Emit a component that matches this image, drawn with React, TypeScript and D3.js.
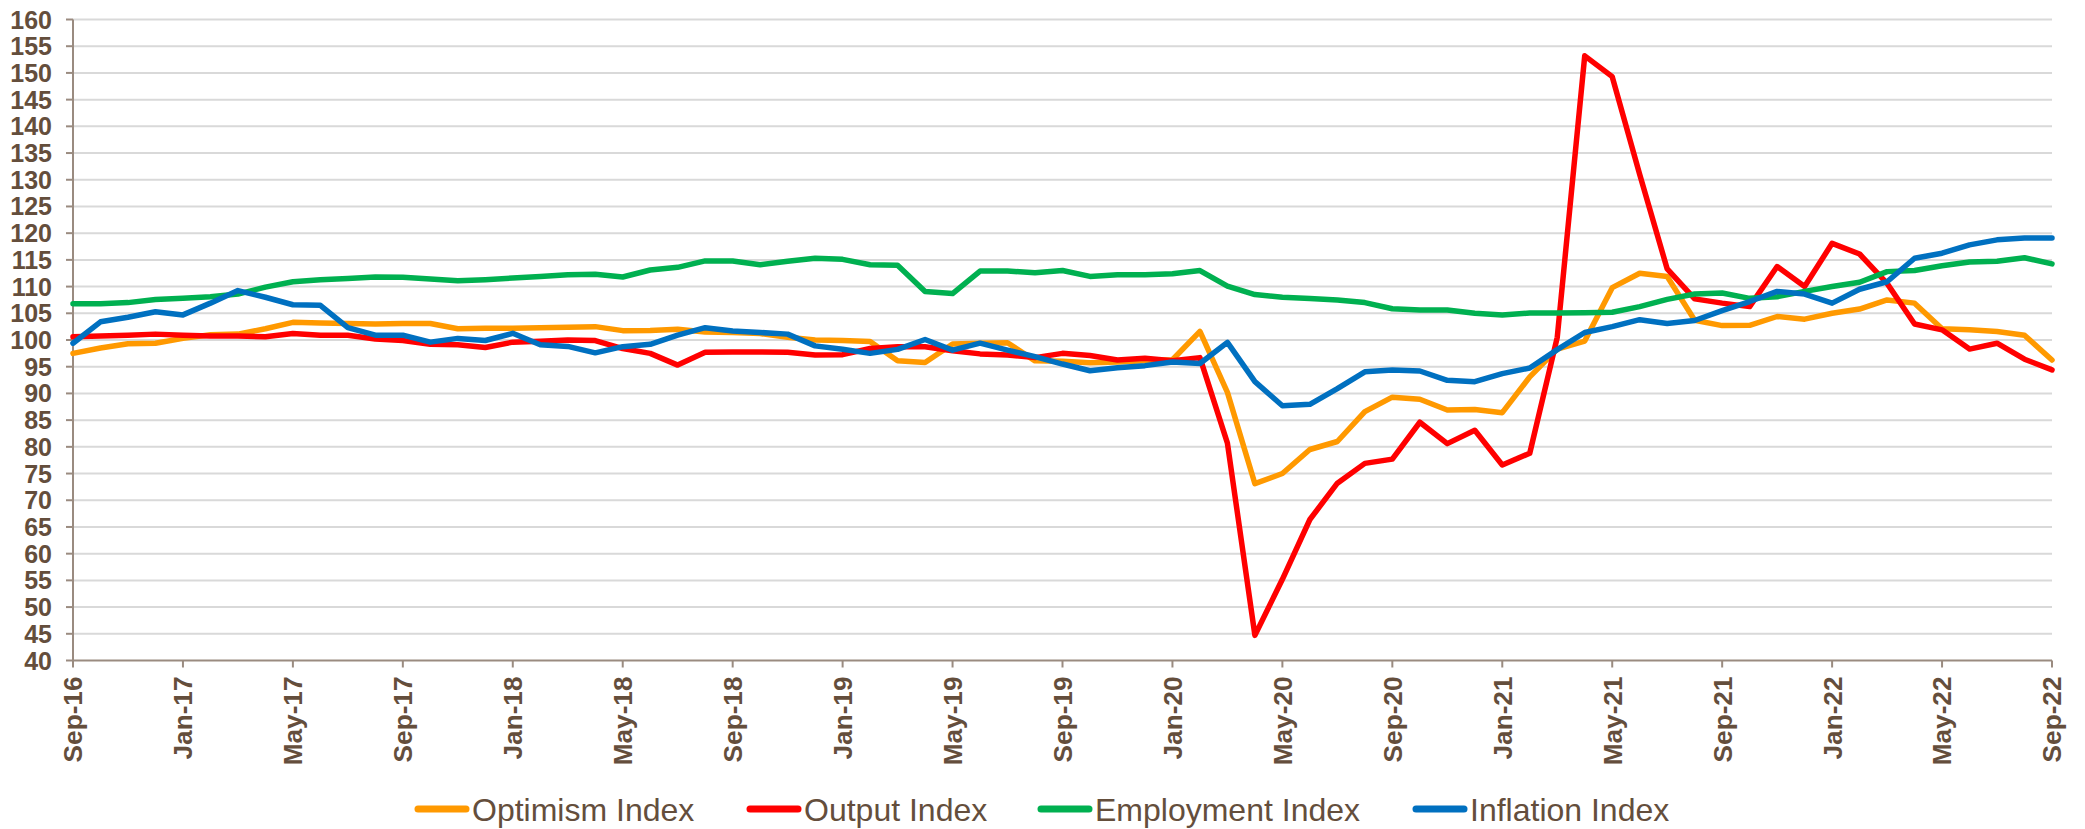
import * as d3 from "d3";
import { useEffect, useRef } from "react";

// Monthly index values, Sep-16 .. Sep-22 (73 months)
const optimism = [
  97.5, 98.5, 99.3, 99.4, 100.3, 101.0, 101.1, 102.1, 103.3, 103.2, 103.1, 103.0, 103.1,
  103.1, 102.1, 102.2, 102.2, 102.3, 102.4, 102.5, 101.75, 101.8, 102.0, 101.5, 101.4,
  101.2, 100.5, 100.0, 99.9, 99.7, 96.1, 95.8, 99.25, 99.4, 99.5, 96.1, 96.0, 95.75, 95.9,
  96.1, 96.3, 101.6, 90.2, 73.1, 75.0, 79.5, 81.0, 86.6, 89.3, 88.9, 86.9, 87.0, 86.4, 93.1,
  98.3, 99.8, 109.8, 112.5, 111.9, 103.7, 102.7, 102.75, 104.4, 103.9, 105.0, 105.8, 107.5,
  106.9, 102.1, 101.9, 101.6, 100.9, 96.25,
];
const output = [
  100.6, 100.75, 100.9, 101.1, 100.9, 100.75, 100.75, 100.6, 101.2, 100.9, 100.9, 100.2,
  99.9, 99.2, 99.1, 98.6, 99.6, 99.75, 100.0, 99.9, 98.4, 97.5, 95.3, 97.7, 97.75, 97.75,
  97.7, 97.2, 97.25, 98.4, 98.75, 98.75, 98.0, 97.4, 97.2, 96.7, 97.5, 97.1, 96.25, 96.6,
  96.1, 96.7, 80.7, 44.7, 55.2, 66.4, 73.2, 76.9, 77.7, 84.6, 80.6, 83.1, 76.6, 78.8, 100.5,
  153.2, 149.3, 131.0, 113.3, 107.7, 106.9, 106.25, 113.75, 110.0, 118.1, 116.1, 110.6,
  103.0, 101.9, 98.3, 99.4, 96.4, 94.4,
];
const employment = [
  106.8, 106.8, 107.0, 107.6, 107.8, 108.1, 108.6, 109.9, 110.9, 111.3, 111.5, 111.8,
  111.75, 111.4, 111.1, 111.3, 111.6, 111.9, 112.2, 112.3, 111.8, 113.1, 113.6, 114.8,
  114.8, 114.1, 114.75, 115.3, 115.1, 114.1, 114.0, 109.1, 108.7, 112.9, 112.9, 112.6,
  113.0, 111.9, 112.2, 112.2, 112.4, 113.0, 110.1, 108.5, 108.0, 107.75, 107.5, 107.0,
  105.85, 105.6, 105.6, 105.0, 104.7, 105.05, 105.05, 105.1, 105.2, 106.25, 107.6, 108.6,
  108.8, 107.8, 108.1, 109.1, 110.0, 110.8, 112.8, 113.0, 113.9, 114.6, 114.75, 115.4, 114.25,
];
const inflation = [
  99.4, 103.4, 104.25, 105.3, 104.7, 106.9, 109.25, 108.0, 106.6, 106.5, 102.3, 100.9,
  100.9, 99.6, 100.3, 99.9, 101.25, 99.1, 98.8, 97.6, 98.75, 99.2, 100.9, 102.3, 101.7,
  101.4, 101.1, 98.9, 98.25, 97.5, 98.25, 100.1, 98.1, 99.4, 98.1, 96.9, 95.5, 94.25, 94.8,
  95.2, 95.9, 95.6, 99.55, 92.2, 87.7, 87.95, 90.9, 94.05, 94.4, 94.2, 92.45, 92.2, 93.7,
  94.75, 98.2, 101.4, 102.5, 103.8, 103.1, 103.65, 105.5, 107.2, 109.1, 108.6, 106.9, 109.5,
  110.9, 115.3, 116.25, 117.8, 118.75, 119.1, 119.1,
];

// x tick labels, one every 4 months
const xTickLabels = [
  "Sep-16", "Jan-17", "May-17", "Sep-17", "Jan-18", "May-18", "Sep-18", "Jan-19", "May-19",
  "Sep-19", "Jan-20", "May-20", "Sep-20", "Jan-21", "May-21", "Sep-21", "Jan-22", "May-22",
  "Sep-22",
];
const yTicks = d3.range(40, 161, 5);

const seriesNames = ["Optimism Index", "Output Index", "Employment Index", "Inflation Index"];
const seriesData = [optimism, output, employment, inflation];
const seriesColors = ["#ff9900", "#ff0000", "#00b050", "#0070c0"];

const width = 2085;
const height = 829;
const margin = { top: 19.5, right: 33, bottom: 168.5, left: 73 };
const textColor = "#644e3c";
const axisColor = "#9a8b80";
const font = "'Liberation Sans', Arial, sans-serif";

const Chart = () => {
  const svgRef = useRef<SVGSVGElement>(null);

  useEffect(() => {
    if (!svgRef.current) return;
    const svg = d3.select(svgRef.current);
    svg.selectAll("*").remove();

    const x = d3
      .scaleLinear()
      .domain([0, optimism.length - 1])
      .range([margin.left, width - margin.right]);
    const y = d3
      .scaleLinear()
      .domain([40, 160])
      .range([height - margin.bottom, margin.top]);

    // Gridlines
    svg
      .append("g")
      .selectAll("line")
      .data(yTicks.filter(t => t > 40))
      .join("line")
      .attr("x1", margin.left)
      .attr("x2", width - margin.right)
      .attr("y1", d => y(d))
      .attr("y2", d => y(d))
      .attr("stroke", "#d9d9d9")
      .attr("stroke-width", 2);

    // Y axis
    const yAxis = svg.append("g");
    yAxis
      .append("line")
      .attr("x1", margin.left)
      .attr("x2", margin.left)
      .attr("y1", y(160))
      .attr("y2", y(40))
      .attr("stroke", axisColor)
      .attr("stroke-width", 2);
    yAxis
      .selectAll("line.tick")
      .data(yTicks)
      .join("line")
      .attr("class", "tick")
      .attr("x1", margin.left - 7)
      .attr("x2", margin.left)
      .attr("y1", d => y(d))
      .attr("y2", d => y(d))
      .attr("stroke", axisColor)
      .attr("stroke-width", 2);
    yAxis
      .selectAll("text")
      .data(yTicks)
      .join("text")
      .attr("x", 52)
      .attr("y", d => y(d))
      .attr("dy", "0.36em")
      .attr("text-anchor", "end")
      .attr("font-family", font)
      .attr("font-weight", "bold")
      .attr("font-size", 25)
      .attr("fill", textColor)
      .text(d => d);

    // X axis
    const xAxis = svg.append("g");
    const base = y(40);
    xAxis
      .append("line")
      .attr("x1", margin.left)
      .attr("x2", width - margin.right)
      .attr("y1", base)
      .attr("y2", base)
      .attr("stroke", axisColor)
      .attr("stroke-width", 2);
    xAxis
      .selectAll("line.tick")
      .data(xTickLabels)
      .join("line")
      .attr("class", "tick")
      .attr("x1", (_, i) => x(i * 4))
      .attr("x2", (_, i) => x(i * 4))
      .attr("y1", base)
      .attr("y2", base + 7)
      .attr("stroke", axisColor)
      .attr("stroke-width", 2);
    xAxis
      .selectAll("text")
      .data(xTickLabels)
      .join("text")
      .attr("transform", (_, i) => `translate(${x(i * 4)}, ${base + 16}) rotate(-90)`)
      .attr("dy", "0.36em")
      .attr("text-anchor", "end")
      .attr("font-family", font)
      .attr("font-weight", "bold")
      .attr("font-size", 26.2)
      .attr("fill", textColor)
      .text(d => d);

    // Lines
    const line = d3
      .line<number>()
      .x((_, i) => x(i))
      .y(d => y(d));

    seriesData.forEach((values, i) => {
      svg
        .append("path")
        .datum(values)
        .attr("fill", "none")
        .attr("stroke", seriesColors[i])
        .attr("stroke-width", 5.5)
        .attr("stroke-linejoin", "round")
        .attr("stroke-linecap", "round")
        .attr("d", line)
        .attr("aria-label", seriesNames[i]);
    });

    // Legend
    const legendX = [415, 747, 1038, 1413];
    const legendY = 809;
    const legend = svg.append("g");
    seriesNames.forEach((name, i) => {
      const g = legend.append("g").attr("transform", `translate(${legendX[i]}, ${legendY})`);
      g.append("line")
        .attr("x1", 3)
        .attr("x2", 51)
        .attr("stroke", seriesColors[i])
        .attr("stroke-width", 7)
        .attr("stroke-linecap", "round");
      g.append("text")
        .attr("x", 57)
        .attr("dy", "0.36em")
        .attr("font-family", font)
        .attr("font-size", 32)
        .attr("fill", textColor)
        .text(name);
    });
  }, []);

  return (
    <svg
      ref={svgRef}
      width={width}
      height={height}
      style={{ position: "absolute", left: 0, top: 0, background: "#fff" }}
    ></svg>
  );
};

export default function App() {
  return <Chart />;
}
